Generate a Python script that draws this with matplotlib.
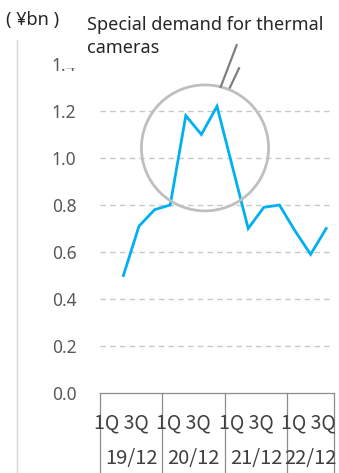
import matplotlib
matplotlib.use("Agg")
import matplotlib.pyplot as plt
from matplotlib.patches import Ellipse, Rectangle
from matplotlib.lines import Line2D

# quarterly sales, 1Q 19/12 has no value
quarters = ["1Q", "2Q", "3Q", "4Q"] * 3 + ["1Q", "2Q", "3Q"]
years = ["19/12", "20/12", "21/12", "22/12"]
sales = [None, 0.50, 0.71, 0.78, 0.80, 1.18, 1.10, 1.22, 0.96, 0.70, 0.79, 0.80, 0.69, 0.59, 0.70]
y_ticks = [0.0, 0.2, 0.4, 0.6, 0.8, 1.0, 1.2, 1.4]

x = list(range(len(sales)))
xs = [i for i, v in zip(x, sales) if v is not None]
ys = [v for v in sales if v is not None]

fig = plt.figure(figsize=(3.39, 4.73), dpi=100)
ax = fig.add_axes([100 / 339, 80 / 473, 234 / 339, 329 / 473])

ax.plot(xs, ys, color="#00b0f0", linewidth=2.0, solid_joinstyle="miter", zorder=3)

ax.set_xlim(-0.5, len(sales) - 0.5)
ax.set_ylim(0, 1.4)
ax.set_yticks(y_ticks)
ax.set_yticklabels([f"{t:.1f}" for t in y_ticks], fontsize=12.5, color="#595959", family="Noto Sans")
ax.tick_params(axis="y", length=0, pad=17)
ax.set_xticks([])
for s in ["left", "right", "top"]:
    ax.spines[s].set_visible(False)
ax.spines["bottom"].set_color("#8c8c8c")
ax.spines["bottom"].set_linewidth(0.9)
for t in y_ticks[1:]:
    ax.axhline(t, color="#c8c8c8", linestyle=(0, (4, 3)), linewidth=1.0, zorder=1)

# two-level category axis
edges = [-0.5, 3.5, 7.5, 11.5, len(sales) - 0.5]
btrans = ax.get_xaxis_transform()
for e in edges:
    ax.add_line(Line2D([e, e], [0, -0.245], transform=btrans, color="#8c8c8c",
                       linewidth=0.9, clip_on=False))
for i, yr in enumerate(years):
    ax.text(edges[i] - 0.38, -0.091, "1Q 3Q", transform=btrans, ha="left", va="center",
            fontsize=14, color="#404040", family="Noto Sans CJK JP")
    ax.text((edges[i] + edges[i + 1]) / 2, -0.198, yr, transform=btrans, ha="center",
            va="center", fontsize=14.5, color="#404040", family="Noto Sans CJK JP")

# circle around the peak
ax.add_patch(Ellipse((6.23, 1.043), 8.15, 0.536, fill=False, edgecolor="#bfbfbf",
                     linewidth=2.0, zorder=4))

# chart area border on the left
fig.add_artist(Line2D([17 / 339, 17 / 339], [0, 1 - 40 / 473], color="#d9d9d9", linewidth=1.0))

# callout box over the top of the plot
fig.add_artist(Rectangle((66 / 339, 1 - 68 / 473), 272 / 339, 68 / 473,
                         facecolor="white", edgecolor="none", zorder=5))
fig.text(87 / 339, 1 - 30 / 473, "Special demand for thermal", ha="left", va="baseline",
         fontsize=13, color="#262626", family="Noto Sans", zorder=6)
fig.text(87 / 339, 1 - 53 / 473, "cameras", ha="left", va="baseline",
         fontsize=13, color="#262626", family="Noto Sans", zorder=6)
fig.text(6 / 339, 1 - 20 / 473, "( ¥bn )", ha="left", va="center", fontsize=13,
         color="#262626", family="Noto Sans", zorder=6)

for (x0, y0), (x1, y1) in [((8.26, 1.48), (7.24, 1.303)), ((8.41, 1.382), (7.83, 1.30))]:
    fig.add_artist(Line2D([x0, x1], [y0, y1], transform=ax.transData, color="#7f7f7f",
                          linewidth=1.6, zorder=7))

fig.savefig("out.png", dpi=100, facecolor="white")
